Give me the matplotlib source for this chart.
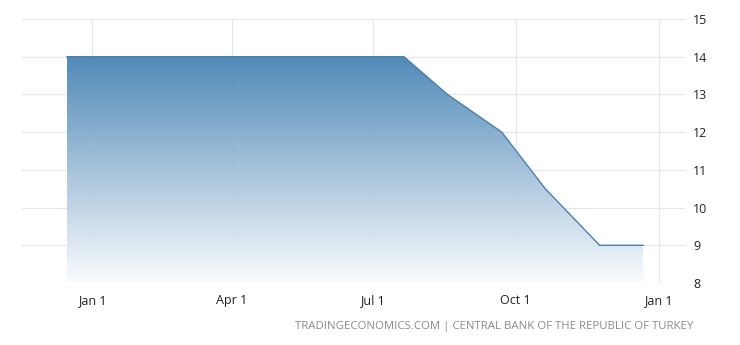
import matplotlib
matplotlib.use('Agg')
import matplotlib.pyplot as plt
import matplotlib.dates as mdates
import numpy as np
import pandas as pd
from matplotlib.patches import PathPatch

# policy rate decisions
dates = pd.to_datetime(['2021-12-16', '2022-01-20', '2022-02-17', '2022-03-17', '2022-04-14',
                        '2022-05-26', '2022-06-23', '2022-07-21', '2022-08-18', '2022-09-22',
                        '2022-10-20', '2022-11-24', '2022-12-22'])
rates = [14, 14, 14, 14, 14, 14, 14, 14, 13, 12, 10.5, 9, 9]

tick_dates = pd.to_datetime(['2022-01-01', '2022-04-01', '2022-07-01', '2022-10-01', '2023-01-01'])
tick_labels = ['Jan 1', 'Apr 1', 'Jul 1', 'Oct 1', 'Jan 1']
y_ticks = [8, 9, 10, 11, 12, 13, 14, 15]
source = 'TRADINGECONOMICS.COM | CENTRAL BANK OF THE REPUBLIC OF TURKEY'

plt.rcParams['font.family'] = ['Open Sans', 'DejaVu Sans']

fig = plt.figure(figsize=(7.4, 3.45), dpi=100)
ax = fig.add_axes([0.0297, 0.1797, 0.8960, 0.7652])

x = mdates.date2num(dates)
ymin, ymax = 8, 15

# gradient fill, clipped to the area under the line
poly = ax.fill_between(x, rates, ymin, facecolor='none', edgecolor='none')
top = np.array([70, 130, 180]) / 255.0
bottom = np.array([250, 252, 254]) / 255.0
t = np.linspace(0, 1, 256)[:, None]
grad = (bottom * (1 - t) + top * t)[:, None, :]
img = ax.imshow(grad, aspect='auto', origin='lower', alpha=0.94,
                extent=[x.min(), x.max(), ymin, max(rates)], zorder=1)
path = poly.get_paths()[0]
clip = PathPatch(path, transform=ax.transData, facecolor='none', edgecolor='none')
ax.add_patch(clip)
img.set_clip_path(clip)

ax.plot(x, rates, color='#4a7fb0', lw=1.0, zorder=3)

ax.set_xlim(mdates.date2num(pd.Timestamp('2021-11-17')), mdates.date2num(pd.Timestamp('2023-01-18')))
ax.set_ylim(ymin, ymax)

ax.set_xticks(mdates.date2num(tick_dates))
ax.set_xticklabels(tick_labels)
ax.set_yticks(y_ticks)
ax.yaxis.tick_right()
ax.tick_params(axis='both', length=0, labelsize=9, colors='#222222')
ax.tick_params(axis='x', pad=8)
ax.tick_params(axis='y', pad=6)

ax.set_axisbelow(True)
ax.grid(True, color='#e6e6e6', lw=0.8)
for s in ax.spines.values():
    s.set_visible(False)

fig.text(0.937, 0.055, source, ha='right', va='center', fontsize=8.2, color='#8a8a8a')

fig.savefig('out.png', dpi=100)
